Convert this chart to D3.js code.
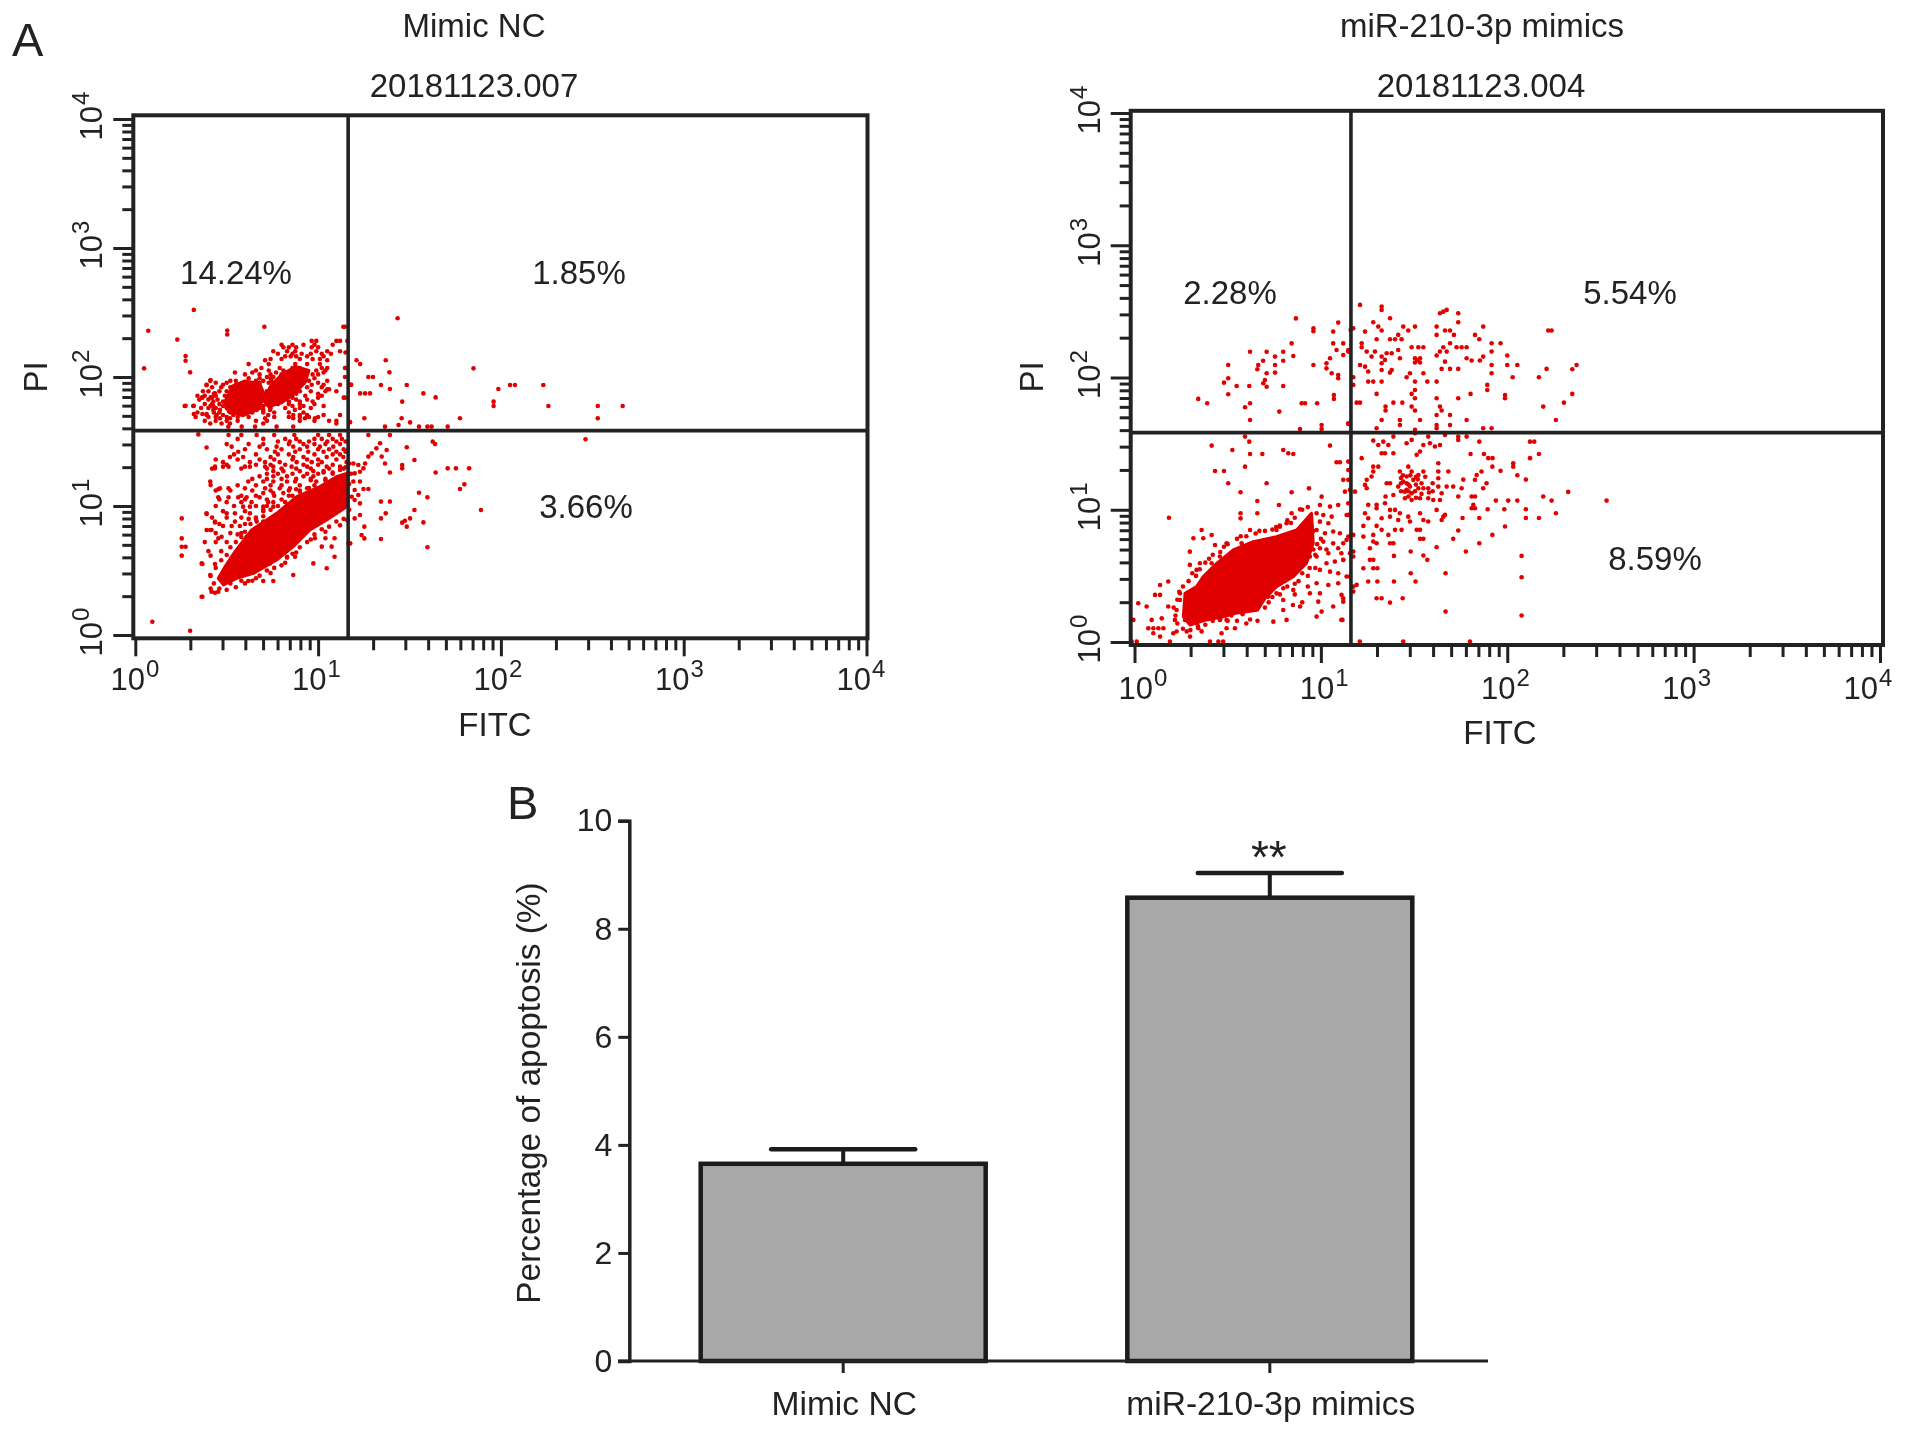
<!DOCTYPE html>
<html><head><meta charset="utf-8">
<style>
html,body{margin:0;padding:0;background:#fff}
svg{display:block}
text{font-family:"Liberation Sans",Arial,sans-serif;fill:#222}
</style>
<script src="https://cdn.jsdelivr.net/npm/d3@7"></script>
</head><body><svg id="c" width="1913" height="1436"></svg>
<script>
// ---- values ----
const decades = [1, 10, 100, 1000, 10000];
const decadeExp = ["0", "1", "2", "3", "4"];
const ncGate = [14.6, 38.4];
const miGate = [14.5, 38.3];
const ncPercents = ["14.24%", "1.85%", "3.66%"];
const miPercents = ["2.28%", "5.54%", "8.59%"];

// Scatter events are [log10 FITC, log10 PI]; rows are [log10 PI, [log10 FITC...]]
const ncCoreBand = [[.454,.439],[.491,.53],[.545,.646],[.636,.814],[.773,.943],[.883,1.072],[1.01,1.15],[1.10,1.227],[1.156,1.253],[1.156,.995],[1.047,.892],[.955,.814],[.864,.685],[.773,.581],[.646,.478],[.554,.439],[.482,.388]];
const ncCoreBlobA = [[.49,1.80],[.53,1.93],[.60,1.97],[.68,1.95],[.71,1.85],[.67,1.75],[.59,1.70],[.51,1.73]];
const ncCoreBlobB = [[.70,1.82],[.74,1.93],[.80,2.02],[.88,2.08],[.95,2.05],[.93,1.96],[.87,1.87],[.80,1.80],[.73,1.77]];
const ncRows = [
[2.52,[.32]],[2.39,[.706,1.138]],[2.36,[.503]],[2.33,[.503]],[2.28,[.965,.99,1.10,1.12]],
[2.25,[.80,.86,.92,.98,1.08]],[2.23,[.81,.84,.88,.965,1.0]],[2.2,[.755,.83,.875,.99,1.05,1.12]],[2.18,[.78,.86,.91,.96,1.02,1.07]],[2.16,[.82,.85,.88,.94,1.03]],
[2.14,[.74,.80,.90,.97,1.01]],[2.13,[.71,1.05]],[2.1,[.62,.73,.875,.94,1.01]],[2.07,[.69,.79,.86,.90,1.02,1.05,1.15]],[2.05,[.66,.73,.81,.87,.92,.99,1.04]],
[2.035,[.545,.64,.77,.83,.94,1.03]],[2.02,[.60,.68,.74,.80,.86,.91,.97,1.0]],[2.0,[.72,.755,.81,.88]],[1.99,[.62,.68,.74,.84,.90,.98]],[1.97,[.41,.52,.55,.66,.70,.745,.79,.95,1.05]],
[1.955,[.44,.50,.60,.68,.73,.80,.86,.92,1.0]],[1.94,[.39,.48,.55,.64,.77,.83,.88,.965,1.03,1.12,1.18]],[1.92,[.42,.47,.52,.60,.68,.76,.82,.88,.94,1.02]],[1.905,[.536,.59,.66,.74,.79,.86,1.05,1.06]],
[1.89,[.37,.40,.46,.50,.58,.66,.72,.78,.84,.90,.96,1.04,1.1]],[1.87,[.43,.52,.60,.70,.80,.88,1.0]],[1.855,[.34,.38,.44,.49,.56,.64,.72,.78,.85,.93,1.02]],[1.84,[.365,.42,.70,.86,1.0,1.14]],[1.825,[.35,.40,.45,.50,.68,.74,.80,.88,.94]],[1.81,[.427,.48,.76,.84,.90,.97]],
[1.79,[.38,.42,.46,.50,.66,.72,.78,.84,.90,.98]],[1.775,[.27,.317,.427,.48,.70,.86,.92,1.03]],[1.76,[.36,.40,.44,.50,.56,.62,.68,.74,.82,.90,.96]],[1.745,[.427,.463,.664,.70,.737,.873]],[1.725,[.34,.43,.46,.52,.58,.64,.70,.76,.84,.92]],
[1.705,[.39,.445,.48,.536,.727,.864,.90,.94,1.03,1.12]],[1.69,[.33,.40,.44,.50,.56,.62,.76,.84,.90,.95,1.0]],[1.68,[.463,.518,.71,.864,.928,.983]],[1.66,[.38,.44,.50,.56,.66,.72,.90,.98,1.06,1.1]],
[1.64,[.41,.472,.518,.70,1.10]],[1.615,[.509,.582,.655,.773,.864]],
[1.55,[.51,.58,.664,.76,.87,1.0,1.06,1.12]],[1.52,[.56,.70,.82,.88,.98,1.02,1.08,1.13]],[1.50,[.78,.845,.90,.95,1.05,1.10,1.15]],[1.48,[.50,.62,.70,.84,.92,.98,1.04,1.12]],
[1.46,[.527,.68,.773,.864,.94,1.01,1.083]],[1.44,[.60,.72,.80,.90,1.0,1.06,1.14]],[1.42,[.563,.764,.875,.946,1.03,1.10,1.15]],[1.40,[.54,.66,.78,.84,.98,1.08,1.12]],
[1.38,[.518,.59,.74,.864,.92,1.047,1.138]],[1.36,[.44,.56,.68,.76,.86,.94,1.0,1.10]],[1.34,[.48,.627,.71,.79,.883,.965,1.02,1.156]],[1.32,[.50,.66,.74,.82,.92,1.0,1.08]],
[1.305,[.436,.48,.51,.60,.627,.71,.755,.855,.94,1.047,1.12]],[1.29,[.42,.58,.72,.80,.88,.96,1.06,1.14]],[1.27,[.755,.81,.90,.974,1.03]],[1.25,[.72,.78,.86,.94,1.0,1.08]],
[1.23,[.68,.755,.83,.92,.974]],[1.21,[.64,.72,.80,.88,.96,1.04]],[1.19,[.41,.618,.70,.755,.83,.874]],[1.16,[.56,.66,.74,.80,.90,.98]],[1.137,[.463,.51,.60,.71,.79,.846,.94]],[1.12,[.44,.52,.64,.74,.84,.90]],
[1.10,[.70,.755,.81]],[1.08,[.58,.66,.76,.84]],[1.067,[.51,.563,.609,.68]],[1.05,[.46,.60,.72]],[1.03,[.50,.58,.636,.727,.755]],[1.0,[.44,.54,.66,.72]],[.995,[.59,.627,.70,.755]],[.96,[.48,.60,.70]],
[.943,[.39,.50,.545,.627]],[.91,[.42,.50,.58,.66]],[.879,[.436,.545,.664,.70,.755]],[.86,[.46,.60]],[.845,[.48,.527,.572]],[.814,[.417]],[.79,[.44,.52,.58]],
[.762,[.472,.609,.664]],[.75,[.983,1.04,1.09]],[.72,[.38,.44,.50]],[.685,[1.02,1.074]],[.65,[.40,.47]],[.607,[.83,.874,1.09]],
[.555,[.363,.737,.974]],[.517,[1.047]],[.465,[.41,.864]],[.419,[.618,.70,.755]],[.336,[.417,.454]],[.297,[.363]]
];
const ncBandEdge = [
[.44,.52],[.47,.58],[.50,.62],[.52,.68],[.55,.72],[.58,.76],[.60,.80],[.63,.86],[.66,.90],[.70,.92],[.74,.97],[.78,1.0],[.82,1.03],[.86,1.08],[.90,1.11],[.95,1.14],[.99,1.19],[1.04,1.20],[1.08,1.26],[1.12,1.28],[1.15,1.30],[.56,.78],[.62,.90],[.70,.97],[.80,1.05],[.88,1.13],[.96,1.2],[1.03,1.26],
[.43,.40],[.46,.36],[.50,.35],[.55,.37],[.60,.40],[.64,.42],[.68,.46],[.72,.50],[.76,.52],[.80,.54],[.83,.60],[.86,.63],[.90,.68],[.94,.72],[.98,.78],[1.02,.82],[1.06,.84],[1.10,.88],[1.14,.90],[.52,.40],[.58,.42],[.66,.44],[.74,.48],[.82,.56],[.88,.64],[.96,.74],[1.04,.80],[1.12,.85]
];
const ncPoints = [
[1.435,2.455],[1.85,2.067],[1.37,2.13],[1.21,2.13],[1.23,2.10],[1.39,2.036],[1.275,2.0],[1.30,2.0],[1.344,1.938],[1.393,1.907],[1.485,1.938],
[1.576,1.873],[1.643,1.842],[1.46,1.809],[1.23,1.873],[1.257,1.873],[1.284,1.873],[1.986,1.907],[2.05,1.938],[2.077,1.938],[1.96,1.809],[1.96,1.775],
[2.232,1.938],[2.26,1.775],[2.53,1.775],[2.666,1.775],[2.53,1.68],[2.463,1.517],[1.253,1.68],[1.776,1.68],[1.457,1.68],[1.503,1.648],[1.44,1.628],
[1.366,1.615],[1.552,1.615],[1.598,1.615],[1.621,1.615],[1.709,1.615],[1.275,1.55],[1.393,1.55],[1.627,1.499],[1.64,1.48],[1.485,1.455],
[1.339,1.486],[1.319,1.447],[1.293,1.408],[1.275,1.383],[1.375,1.434],[1.348,1.383],[1.366,1.33],[1.393,1.26],[1.527,1.357],[1.46,1.318],[1.46,1.292],
[1.643,1.26],[1.709,1.292],[1.754,1.292],[1.826,1.292],[1.80,1.168],[1.776,1.132],[1.552,1.103],[1.598,1.067],[1.344,1.034],[1.393,1.034],[1.891,.969],
[1.527,.969],[1.37,.943],[1.344,.904],[1.503,.904],[1.475,.886],[1.46,.871],[1.485,.84],[1.576,.873],[1.253,.84],[1.238,.775],[1.253,.749],[1.344,.744],[1.598,.68],
[1.193,1.33],[1.22,1.318],[1.248,1.292],[1.229,1.266],[1.2,1.253],[1.257,1.33],[1.193,1.19],[1.229,1.19],[1.2,1.124],[1.248,1.132],[1.275,1.132],[1.184,1.072],[1.22,1.085],[1.229,1.02],[1.2,1.047],[1.229,.93],[1.2,.904],
[1.147,2.39],[1.16,2.28],[1.15,2.19],[1.147,2.07],[1.147,2.0],[1.18,1.94],[1.147,1.84],[1.175,1.65],[1.166,.71],[1.176,.71],[1.16,1.43],[1.17,1.33],[1.18,1.25],[1.17,1.17],[1.16,1.08],[1.17,.97],[1.16,.89],
[.071,2.359],[.23,2.29],[.275,2.162],[.275,2.126],[.048,2.067],[.30,2.036],[.412,1.976],[.39,1.937],[.367,1.842],[.275,1.777],[.32,1.777],[.32,1.713],[.367,1.713],[.39,1.713],[.412,1.842],[.436,1.873],[.412,1.777],
[.345,1.555],[.39,1.454],[.436,1.292],[.412,1.162],[.454,1.13],[.454,1.067],[.254,.904],[.39,.938],[.436,.873],[.254,.749],[.39,.814],[.41,.814],[.454,.749],[.254,.684],[.275,.684],[.254,.615],[.412,.615],[.367,.55],[.436,.55],[.412,.457],[.412,.361],[.436,.328],[.367,.297],
[.093,.103],[.30,.033]
];

const miCore = [[.271,.368],[.333,.419],[.369,.494],[.441,.595],[.53,.696],[.637,.759],[.762,.797],[.87,.847],[.95,.973],[.959,.746],[.923,.595],[.852,.494],[.762,.419],[.70,.33],[.66,.24],[.55,.22],[.476,.19],[.387,.167],[.297,.129],[.262,.192]];
const miCoreEdge = [
[.26,.42],[.29,.46],[.31,.52],[.35,.55],[.38,.60],[.42,.66],[.46,.68],[.50,.74],[.55,.78],[.60,.80],[.65,.82],[.70,.84],[.74,.85],[.78,.88],[.82,.92],[.86,.94],[.90,1.0],[.93,1.02],[.24,.38],[.33,.50],[.40,.63],[.48,.72],[.57,.80],[.67,.84],[.76,.87],[.84,.90],
[.23,.14],[.26,.10],[.30,.09],[.34,.12],[.38,.13],[.42,.16],[.46,.17],[.52,.20],[.58,.21],[.62,.17],[.66,.16],[.70,.26],[.72,.30],[.74,.34],[.78,.36],[.82,.42],[.86,.44],[.90,.52],[.94,.56],[.97,.66],[.98,.74],[.96,.84],[.22,.20],[.21,.26],[.23,.32],[.28,.08],[.36,.08],[.50,.16],[.55,.16],[.60,.14],
[.92,.90],[.95,.88],[1.0,.78],[.96,.70],[1.03,.70],[.93,.66],[.90,.60],[.97,.56],[.93,.50],[.88,.46],[.93,.42],[.86,.36],[.90,.30],[.85,.28]
];
const miCentreCluster = [
[1.44,1.26],[1.48,1.26],[1.52,1.23],[1.47,1.19],[1.51,1.19],[1.54,1.2],[1.43,1.14],[1.54,1.12],[1.51,1.09],[1.47,1.14],[1.58,1.13],[1.56,1.25],[1.6,1.2],[1.6,1.14],[1.43,1.2]
];
const miPoints = [
[.866,2.447],[.96,2.372],[.96,2.35],[1.093,2.415],[1.066,2.347],[.843,2.258],[.62,2.195],[.709,2.195],[.798,2.195],[.852,2.163],[.754,2.158],[.798,2.127],[.69,2.127],[.664,2.095],[.659,2.062],[.754,2.095],[.96,2.095],[.503,2.095],
[.754,2.037],[.709,2.032],[.70,1.981],[.691,1.956],[.503,1.994],[.48,1.961],[.548,1.936],[.616,1.936],[.798,1.936],[.709,1.93],[.503,1.873],[.342,1.838],[.39,1.805],[.62,1.805],[.593,1.775],[.897,1.805],[.915,1.805],[.98,1.805],[1.07,1.868],[1.07,1.838],[.777,1.742],[.62,1.679],[.888,1.61],[1.004,1.641],[1.004,1.61],[1.147,1.649],
[1.03,2.069],[1.058,2.032],[1.093,2.019],[1.093,1.994],[1.066,2.258],[1.084,2.208],[1.049,2.145],[1.03,2.107],[1.12,2.258],[1.12,2.17],[1.147,2.208],
[.593,1.553],[.616,1.515],[.414,1.485],[.525,1.452],[.62,1.422],[.686,1.422],[.798,1.452],[.825,1.427],[.852,1.422],[1.049,1.485],[.593,1.326],[.432,1.293],[.48,1.293],[1.084,1.359],[1.102,1.359],[.503,1.2],[.709,1.2],[.936,1.162],[.569,1.132],[.843,1.132],[.659,1.066],[1.004,1.099],[.775,1.036],[.659,.973],[.569,.973],[.569,.935],[.185,.94],[.843,.973],[.888,1.003],
[.995,1.036],[1.049,1.024],[1.093,1.036],[.977,.973],[1.013,.96],[1.058,.948],[1.138,.96],[.995,.91],[1.04,.898],[.977,.847],[1.022,.822],[1.066,.835],[1.102,.822],[1.013,.759],[1.066,.746],[1.138,.772],[.995,.709],[1.04,.671],[1.093,.709],[.977,.646],[1.03,.595],[1.075,.608],[1.12,.62],[.995,.545],[.941,.646],
[1.049,.532],[1.093,.52],[1.156,.494],[.977,.444],[1.04,.431],[1.093,.444],[.995,.368],[.986,.305],[1.111,.356],[1.066,.268],[1.12,.305],[.941,.368],[.798,.406],[.798,.318],[.798,.242],[.816,.167],[1.004,.23],[.977,.192],[1.116,.167],[.888,.268],[.745,.154],[.718,.343],[.762,.368],[.852,.394],
[.297,.683],[.297,.583],[.36,.847],[.316,.784],[.369,.784],[.414,.809],[.432,.734],[.494,.746],[.351,.595],[.333,.545],[.414,.595],[.458,.646],[.575,.746],[.62,.847],[.78,.872],[.816,.898],[.762,.847],[.852,.822],
[.137,.431],[.181,.457],[.11,.356],[.137,.356],[.244,.368],[.02,.293],[.065,.268],[.181,.268],[.146,.179],[.092,.167],[-.006,.167],[.217,.167],[.226,.079],[.074,.104],[.101,.104],[.128,.104],[.155,.104],[.101,.066],[.137,.041],[.298,.041],[.342,.104],[.208,.066],[.244,.318],[.226,.242],[.271,.167],
[-.015,.003],[.012,.003],[.19,.003],[.405,.003],[.45,.003],[.476,.003],[.494,.104],[.539,.104],[.467,.066],[.458,.167],[.494,.167],[.342,.167],[1.209,.003],[1.442,.003],[1.80,.003],
[1.21,2.549],[1.326,2.536],[1.326,2.511],[1.371,2.448],[1.657,2.498],[1.675,2.511],[1.639,2.486],[1.737,2.486],[1.737,2.418],[1.174,2.372],[1.16,2.36],[1.281,2.418],[1.308,2.385],[1.326,2.355],[1.237,2.347],[1.442,2.385],[1.469,2.355],[1.505,2.385],[1.621,2.385],[1.871,2.385],[1.621,2.322],[1.666,2.355],[1.693,2.355],[1.714,2.322],[1.827,2.322],[1.85,2.289],[2.22,2.355],[2.238,2.355],
[1.299,2.289],[1.371,2.289],[1.398,2.289],[1.415,2.322],[1.433,2.289],[1.916,2.259],[1.964,2.259],[1.219,2.259],[1.219,2.229],[1.246,2.196],[1.272,2.158],[1.29,2.196],[1.487,2.229],[1.523,2.229],[1.55,2.229],[1.657,2.229],[1.693,2.259],[1.728,2.229],[1.755,2.229],[1.782,2.229],[1.639,2.196],[1.675,2.196],[1.621,2.166],[1.916,2.196],[1.147,2.196],
[1.326,2.158],[1.353,2.183],[1.38,2.183],[1.415,2.208],[1.424,2.145],[1.326,2.108],[1.326,2.057],[1.344,2.133],[1.505,2.145],[1.532,2.145],[1.505,2.113],[1.532,2.113],[1.518,2.13],[1.782,2.145],[1.809,2.128],[1.853,2.128],[1.871,2.158],[2.0,2.166],[2.0,2.095],[2.054,2.095],[1.916,2.095],[1.916,2.032],[2.211,2.065],[2.372,2.095],[2.349,2.062],
[1.21,2.095],[1.237,2.082],[1.254,2.045],[1.38,2.057],[1.371,2.037],[1.478,2.032],[1.46,2.002],[1.55,2.032],[1.648,2.065],[1.666,2.12],[1.693,2.065],[1.737,2.065],[1.254,1.969],[1.281,1.969],[1.326,1.969],[1.505,1.969],[1.571,1.969],[1.621,1.969],[2.029,2.002],[2.17,2.002],[1.174,2.002],[1.174,1.944],[1.893,1.944],[1.893,1.906],
[1.505,1.906],[1.487,1.876],[1.505,1.843],[1.299,1.876],[1.621,1.843],[1.737,1.843],[1.803,1.876],[1.988,1.868],[1.988,1.843],[2.349,1.876],[2.304,1.81],[2.193,1.78],[2.261,1.679],[1.192,1.81],[1.21,1.81],[1.389,1.81],[1.437,1.81],[1.347,1.78],[1.347,1.75],[1.487,1.78],[1.505,1.75],[1.639,1.78],[1.648,1.75],[1.621,1.717],[1.693,1.717],[1.532,1.679],[1.326,1.679],[1.424,1.679],[1.424,1.641],[1.782,1.679],[1.147,1.654],[1.299,1.616],[1.505,1.604],[1.621,1.641],[1.621,1.616],[1.693,1.641],[1.871,1.616],[1.916,1.616],
[1.389,1.553],[1.505,1.578],[1.666,1.566],[1.737,1.553],[1.737,1.528],[1.782,1.553],[1.281,1.523],[1.308,1.49],[1.335,1.515],[1.362,1.49],[1.326,1.427],[1.344,1.427],[1.389,1.427],[1.46,1.503],[1.487,1.528],[1.576,1.553],[1.55,1.49],[1.585,1.503],[1.612,1.478],[1.639,1.49],[1.514,1.415],[1.532,1.44],[1.85,1.515],[2.122,1.515],[2.145,1.515],[1.803,1.422],[1.875,1.422],[1.898,1.39],[1.921,1.39],[2.17,1.422],[2.122,1.39],[1.219,1.39],
[1.147,1.364],[1.147,1.301],[1.147,1.226],[1.12,1.226],[1.156,1.15],[1.129,1.137],[1.183,1.137],[2.032,1.352],[2.032,1.326],[1.92,1.326],[1.964,1.294],[2.054,1.261],[2.1,1.228],[1.862,1.289],[1.836,1.263],[1.827,1.226],[1.889,1.2],[1.871,1.163],[1.764,1.228],[1.755,1.163],[1.63,1.352],[1.684,1.289],[1.63,1.289],[1.63,1.238],[1.63,1.175],[1.648,1.125],[1.675,1.175],[1.71,1.175],
[1.469,1.326],[1.487,1.289],[1.424,1.289],[1.523,1.263],[1.55,1.289],[1.46,1.251],[1.496,1.226],[1.442,1.213],[1.415,1.175],[1.478,1.175],[1.523,1.163],[1.55,1.163],[1.576,1.163],[1.451,1.137],[1.487,1.125],[1.451,1.087],[1.487,1.074],[1.532,1.087],[1.576,1.087],[1.603,1.074],[1.639,1.074],[1.46,1.2],[1.46,1.15],[1.505,1.14],[1.43,1.24],[1.51,1.25],[1.47,1.1],
[1.281,1.326],[1.308,1.326],[1.281,1.289],[1.272,1.251],[1.246,1.226],[1.237,1.188],[1.246,1.163],[1.353,1.2],[1.371,1.2],[1.737,1.1],[1.809,1.1],[1.827,1.1],[1.818,1.037],[1.809,1.011],[1.827,1.011],[1.939,1.069],[2.005,1.069],[2.054,1.069],[2.193,1.1],[2.238,1.069],[2.327,1.135],[2.533,1.069],[1.895,1.004],[1.984,1.004],[2.1,1.004],[2.261,.974],[2.1,.938],[2.17,.938],[1.85,.938],[1.76,.938],[1.988,.873],[1.737,.843],[1.71,.78],[1.92,.81],[1.85,.747],
[1.657,.948],[1.648,.923],[1.666,.961],[1.347,1.1],[1.389,1.112],[1.299,1.037],[1.299,1.011],[1.254,1.037],[1.344,1.049],[1.237,.974],[1.254,.936],[1.326,.936],[1.371,.999],[1.398,.999],[1.424,.974],[1.415,.923],[1.371,.948],[1.469,.948],[1.478,.911],[1.532,.974],[1.55,.923],[1.576,.911],[1.621,.999],
[1.228,.878],[1.299,.878],[1.326,.848],[1.362,.81],[1.398,.848],[1.433,.848],[1.514,.848],[1.532,.848],[1.228,.797],[1.281,.81],[1.281,.76],[1.299,.747],[1.263,.709],[1.532,.78],[1.55,.78],[1.371,.747],[1.389,.747],[1.621,.717],[1.778,.684],[1.482,.684],[1.392,.651],[1.55,.654],[1.571,.621],[2.077,.651],[1.263,.621],[1.281,.621],[1.228,.558],[1.281,.558],[1.303,.558],[1.482,.52],[1.669,.52],[2.077,.49],[1.254,.457],[1.303,.457],[1.392,.457],[1.508,.457],[1.299,.331],[1.326,.331],[1.371,.298],[1.439,.331],[1.669,.23],[2.077,.2],
[1.174,.684],[1.174,.646],[1.156,.671],[1.174,.419],[1.192,.432],[1.174,.381],[1.138,.495],[1.147,.961],[1.147,1.049],[1.174,.81],[1.147,.797],[1.12,.747],[1.11,.671],[1.12,.621],[1.12,.331],[1.11,.167]
];

// Bar panel
const barCategories = ["Mimic NC", "miR-210-3p mimics"];
const barValues = [3.65, 8.575];
const barErrors = [0.27, 0.455];
const barTicks = [0, 2, 4, 6, 8, 10];
const barMarks = ["", "**"];

// ---- drawing ----
const rootSvg = d3.select("#c");
// the reference is a soft, slightly blurred image
rootSvg.append("defs").append("filter").attr("id", "soft")
  .attr("filterUnits", "userSpaceOnUse").attr("x", 0).attr("y", 0).attr("width", 1913).attr("height", 1436)
  .append("feGaussianBlur").attr("stdDeviation", 0.55);
rootSvg.append("rect").attr("width", 1913).attr("height", 1436).attr("fill", "#fff");
const svg = rootSvg.append("g").attr("filter", "url(#soft)");
const ink = "#222";

function flowPanel(cfg) {
  const x = d3.scaleLog().domain([1, 10000]).range(cfg.xRange);
  const y = d3.scaleLog().domain([1, 10000]).range(cfg.yRange);
  const xLab = d3.scaleLog().domain([1, 10000]).range(cfg.xLabelRange);
  const g = svg.append("g");
  const px = p => x(Math.pow(10, p[0]));
  const py = p => y(Math.pow(10, p[1]));
  const red = "#e00000";
  const poly = d3.line().x(px).y(py).curve(d3.curveLinearClosed);
  g.selectAll("path.core").data(cfg.cores).join("path").attr("class", "core")
    .attr("d", poly).attr("fill", red).attr("stroke", red).attr("stroke-width", 3).attr("stroke-linejoin", "round");
  g.selectAll("circle").data(cfg.points).join("circle")
    .attr("cx", px).attr("cy", py).attr("r", 2.3).attr("fill", red);

  const minor = decades.slice(0, 4).flatMap(d => d3.range(2, 10).map(k => k * d));
  const bottom = cfg.bottom, left = cfg.left;
  const axisStyle = s => {
    s.select(".domain").remove();
    s.selectAll(".tick line").attr("stroke", ink).attr("stroke-width", 3);
  };
  g.append("g").attr("transform", `translate(0,${bottom})`)
    .call(d3.axisBottom(x).tickValues(minor).tickSize(12).tickFormat("")).call(axisStyle);
  g.append("g").attr("transform", `translate(0,${bottom})`)
    .call(d3.axisBottom(x).tickValues(decades).tickSize(18).tickFormat("")).call(axisStyle);
  g.append("g").attr("transform", `translate(${left},0)`)
    .call(d3.axisLeft(y).tickValues(minor).tickSize(11).tickFormat("")).call(axisStyle);
  g.append("g").attr("transform", `translate(${left},0)`)
    .call(d3.axisLeft(y).tickValues(decades).tickSize(20).tickFormat("")).call(axisStyle);

  // decade labels
  const lx = g.selectAll("text.lx").data(decades).join("text").attr("class", "lx")
    .attr("x", d => xLab(d)).attr("y", bottom + cfg.xLabelOffset).attr("text-anchor", "middle").attr("font-size", 31);
  lx.append("tspan").text("10");
  lx.append("tspan").attr("font-size", 24).attr("dy", -13).attr("dx", 1).text((d, i) => decadeExp[i]);
  const ly = g.selectAll("text.ly").data(decades).join("text").attr("class", "ly")
    .attr("transform", d => `translate(${left - 31},${y(d) - 3}) rotate(-90)`)
    .attr("text-anchor", "middle").attr("font-size", 31);
  ly.append("tspan").text("10");
  ly.append("tspan").attr("font-size", 24).attr("dy", -13).attr("dx", 1).text((d, i) => decadeExp[i]);

  // frame and gates
  g.append("rect").attr("x", left).attr("y", cfg.top).attr("width", cfg.right - left).attr("height", bottom - cfg.top)
    .attr("fill", "none").attr("stroke", ink).attr("stroke-width", 4);
  g.append("line").attr("x1", x(cfg.gate[0])).attr("x2", x(cfg.gate[0])).attr("y1", cfg.top).attr("y2", bottom)
    .attr("stroke", ink).attr("stroke-width", 3.6);
  g.append("line").attr("x1", left).attr("x2", cfg.right).attr("y1", y(cfg.gate[1])).attr("y2", y(cfg.gate[1]))
    .attr("stroke", ink).attr("stroke-width", 3.6);

  const t = (tx, ty, s, size, rot) => g.append("text").attr("text-anchor", "middle").attr("font-size", size || 33)
    .attr("transform", `translate(${tx},${ty})` + (rot ? " rotate(-90)" : "")).text(s);
  t(cfg.titleX, 36.5, cfg.title);
  t(cfg.fileX, 97, cfg.file);
  cfg.percents.forEach((s, i) => t(cfg.percentAt[i][0], cfg.percentAt[i][1], s));
  t(cfg.fitcAt[0], cfg.fitcAt[1], "FITC");
  t(cfg.piAt[0], cfg.piAt[1], "PI", 33, true);
}

const flat = rows => rows.flatMap(r => r[1].map(v => [v, r[0]]));

flowPanel({
  xRange: [135.3, 866.5], yRange: [635, 119], left: 133.3, right: 867.5, top: 115.3, bottom: 638.3,
  xLabelRange: [135, 861], xLabelOffset: 52, gate: ncGate, cores: [ncCoreBand, ncCoreBlobA, ncCoreBlobB],
  points: flat(ncRows).concat(ncBandEdge, ncPoints),
  title: "Mimic NC", titleX: 474, file: "20181123.007", fileX: 474,
  percents: ncPercents, percentAt: [[236, 284], [579, 284], [586, 518]],
  fitcAt: [495, 736], piAt: [47, 377]
});
flowPanel({
  xRange: [1134.5, 1880], yRange: [642, 113], left: 1130.7, right: 1883, top: 110.8, bottom: 645,
  xLabelRange: [1143, 1868], xLabelOffset: 54, gate: miGate, cores: [miCore],
  points: miCoreEdge.concat(miCentreCluster, miPoints),
  title: "miR-210-3p mimics", titleX: 1482, file: "20181123.004", fileX: 1481,
  percents: miPercents, percentAt: [[1230, 304], [1630, 304], [1655, 570]],
  fitcAt: [1500, 744], piAt: [1043, 377]
});

// panel letters
svg.append("text").attr("x", 12).attr("y", 56).attr("font-size", 47).text("A");
svg.append("text").attr("x", 507).attr("y", 819).attr("font-size", 47).text("B");

// bars
const bx = d3.scaleBand().domain(barCategories).range([700.7, 1412.3]).paddingInner(0.332).paddingOuter(0);
const by = d3.scaleLinear().domain([0, 10]).range([1361, 820.7]);
const bar = svg.append("g");
const bars = bar.selectAll("g.b").data(barCategories).join("g").attr("class", "b");
// error bars
bars.append("line").attr("x1", d => bx(d) + bx.bandwidth() / 2).attr("x2", d => bx(d) + bx.bandwidth() / 2)
  .attr("y1", (d, i) => by(barValues[i])).attr("y2", (d, i) => by(barValues[i] + barErrors[i]))
  .attr("stroke", "#1a1a1a").attr("stroke-width", 4);
bars.append("line").attr("x1", d => bx(d) + bx.bandwidth() / 2 - 72).attr("x2", d => bx(d) + bx.bandwidth() / 2 + 72)
  .attr("y1", (d, i) => by(barValues[i] + barErrors[i])).attr("y2", (d, i) => by(barValues[i] + barErrors[i]))
  .attr("stroke", "#1a1a1a").attr("stroke-width", 4.5).attr("stroke-linecap", "round");
bars.append("rect").attr("x", d => bx(d)).attr("width", bx.bandwidth())
  .attr("y", (d, i) => by(barValues[i])).attr("height", (d, i) => by(0) - by(barValues[i]))
  .attr("fill", "#a8a8a8").attr("stroke", "#1a1a1a").attr("stroke-width", 4.5);
bars.append("text").attr("x", d => bx(d) + bx.bandwidth() / 2 - 1).attr("y", (d, i) => by(barValues[i] + barErrors[i]) + 0)
  .attr("text-anchor", "middle").attr("font-size", 46).text((d, i) => barMarks[i]);

const leftAxis = bar.append("g").attr("transform", "translate(629.3,0)")
  .call(d3.axisLeft(by).tickValues(barTicks).tickSize(11).tickPadding(6));
leftAxis.select(".domain").attr("stroke", ink).attr("stroke-width", 3.5);
leftAxis.selectAll(".tick line").attr("stroke", ink).attr("stroke-width", 3);
leftAxis.selectAll("text").attr("font-size", 32).attr("font-family", null);

const bottomAxis = bar.append("g").attr("transform", "translate(0,1361)")
  .call(d3.axisBottom(bx).tickSize(12).tickPadding(18));
bottomAxis.select(".domain").remove();
bottomAxis.selectAll(".tick line").attr("stroke", ink).attr("stroke-width", 3);
bottomAxis.selectAll("text").attr("font-size", 33.6).attr("font-family", null).attr("dx", 1);
bar.append("line").attr("x1", 618).attr("x2", 1488).attr("y1", by(0)).attr("y2", by(0))
  .attr("stroke", ink).attr("stroke-width", 3);
bar.append("text").attr("transform", "translate(540,1093) rotate(-90)").attr("text-anchor", "middle")
  .attr("font-size", 33.4).text("Percentage of apoptosis (%)");
</script></body></html>
